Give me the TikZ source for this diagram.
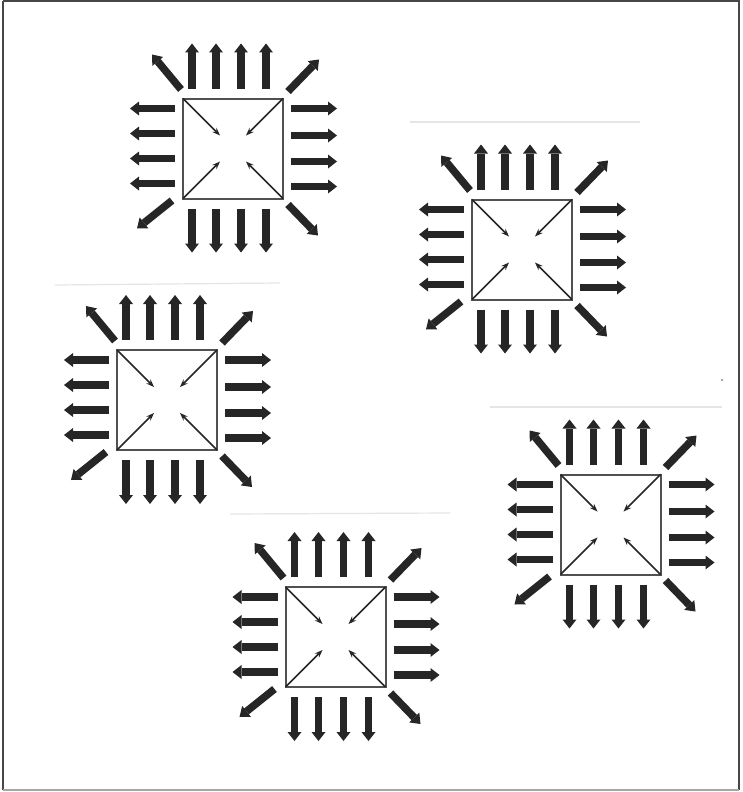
\documentclass[tikz,border=0pt]{standalone}
\usetikzlibrary{arrows.meta}
\definecolor{ink}{HTML}{262626}
\tikzset{
  bigarrow/.style={draw=ink, line width=7.5pt, -{Triangle[length=9pt,width=14pt,line width=0pt]}},
  smallarrow/.style={draw=ink, line width=1.5pt, -{Stealth[length=8pt,width=6pt,line width=0pt]}},
  chipbox/.style={draw=ink!80, line width=2pt},
  scanline/.style={draw=black!10, line width=1.2pt},
  frameline/.style={draw=black!72, line width=2pt},
  chip/.pic={
    \draw[chipbox] (-50,-50) rectangle (50,50);
    \foreach \a in {-41,-17,8,33} {
      \draw[bigarrow] (\a,-60) -- (\a,-105);
      \draw[bigarrow] (\a,60) -- (\a,104);
    }
    \foreach \b in {-40,-15,10,35}
      \draw[bigarrow] (-58,\b) -- (-103,\b);
    \foreach \b in {-40,-13,13,38}
      \draw[bigarrow] (58,\b) -- (104,\b);
    \draw[bigarrow] (-52,-59) -- (-81,-94);
    \draw[bigarrow] (55,-57) -- (86,-89);
    \draw[bigarrow] (-61,52) -- (-96,80);
    \draw[bigarrow] (55,56) -- (85,87);
    \foreach \sx/\sy in {-1/-1,1/-1,-1/1,1/1}
      \draw[smallarrow] (50*\sx,50*\sy) -- (13*\sx,13*\sy);
  }
}
\begin{document}
\begin{tikzpicture}[x=1pt,y=-1pt]
  \useasboundingbox (0,0) rectangle (742,792);
  \fill[white] (0,0) rectangle (742,792);
  % frame
  \draw[frameline] (3,1) -- (739,1) -- (739,790);
  \draw[frameline] (3,1) -- (3,790);
  \draw[draw=black!35, line width=2pt] (3,790) -- (739,790);
  % faint scan lines
  \draw[scanline] (410,122) -- (640,122);
  \draw[scanline] (55,285) -- (280,283);
  \draw[scanline] (490,407) -- (722,407);
  \draw[scanline] (230,514) -- (450,513);
  \fill[black!45] (722,380) circle (1.2);
  % motifs
  \pic at (233,148.5) {chip};
  \pic at (522,249.5) {chip};
  \pic at (167,400) {chip};
  \pic at (610.5,524.5) {chip};
  \pic at (335.5,637) {chip};
\end{tikzpicture}
\end{document}
